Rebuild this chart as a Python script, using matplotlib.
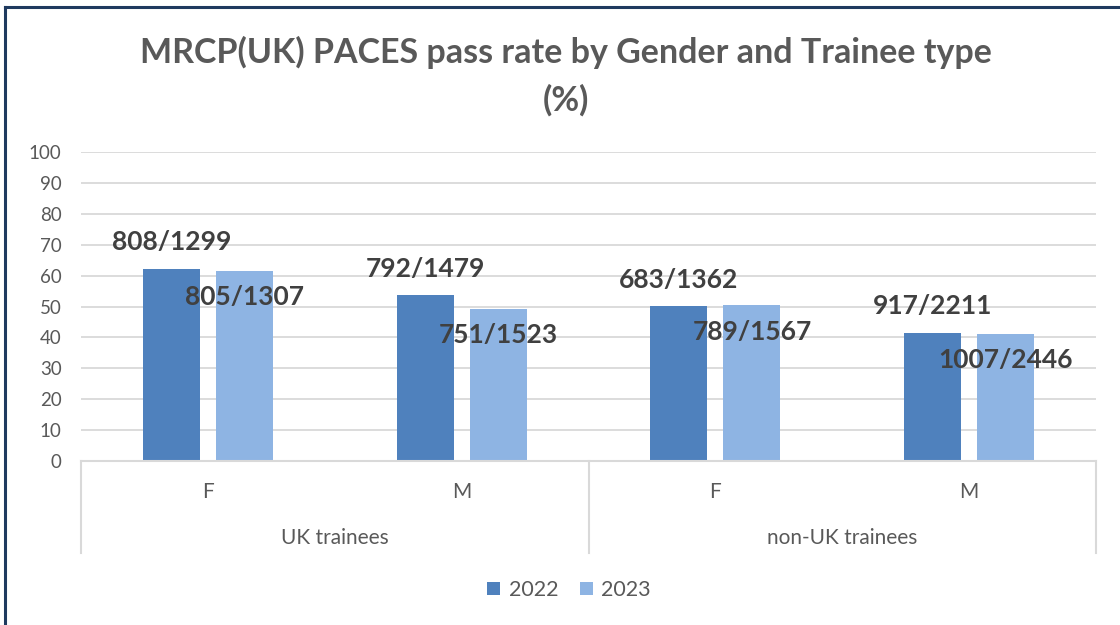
import matplotlib.pyplot as plt
from matplotlib.lines import Line2D

plt.rcParams['font.family'] = ['Lato', 'DejaVu Sans']

# Data
subgroups = ['F', 'M', 'F', 'M']
groups = ['UK trainees', 'non-UK trainees']
rate_2022 = [62.2, 53.6, 50.1, 41.5]
rate_2023 = [61.6, 49.3, 50.4, 41.2]
labels_2022 = ['808/1299', '792/1479', '683/1362', '917/2211']
labels_2023 = ['805/1307', '751/1523', '789/1567', '1007/2446']

c22 = '#4F81BD'
c23 = '#8EB4E3'
grey = '#595959'
grid_c = '#D9D9D9'

fig = plt.figure(figsize=(11.2, 6.25), dpi=100)
ax = fig.add_axes([81/1120, 1-461/625, (1096-81)/1120, (461-152)/625])

x = [i + 0.5 for i in range(len(subgroups))]
w = 0.225
off = 0.144
b1 = ax.bar([v - off for v in x], rate_2022, w, color=c22, label='2022', zorder=2)
b2 = ax.bar([v + off for v in x], rate_2023, w, color=c23, label='2023', zorder=2)

for bar, lab in zip(b1, labels_2022):
    ax.annotate(lab, (bar.get_x() + bar.get_width()/2, bar.get_height()),
                xytext=(0, 19), textcoords='offset points', ha='center', va='center',
                fontsize=19, fontweight='bold', color='#404040', zorder=3)
for bar, lab in zip(b2, labels_2023):
    ax.annotate(lab, (bar.get_x() + bar.get_width()/2, bar.get_height()),
                xytext=(0, -19), textcoords='offset points', ha='center', va='center',
                fontsize=19, fontweight='bold', color='#404040', zorder=3)

ax.set_xlim(0, 4)
ax.set_ylim(0, 100)
ax.set_yticks(range(0, 101, 10))
ax.yaxis.grid(True, color=grid_c, linewidth=1.3, zorder=0)
ax.set_axisbelow(True)
ax.tick_params(axis='y', length=0, pad=14, labelsize=13.5, labelcolor=grey)
ax.set_xticks([])
for s in ax.spines.values():
    s.set_visible(False)

# category axis with group separators
tr = ax.get_xaxis_transform()
ax.plot([0, 4], [0, 0], color=grid_c, lw=1.5, transform=tr, clip_on=False)
for xs in [0, 2, 4]:
    ax.plot([xs, xs], [0, -0.298], color=grid_c, lw=1.5, transform=tr, clip_on=False)
for xv, s in zip(x, subgroups):
    ax.text(xv, -0.1, s, transform=tr, ha='center', va='center', fontsize=15, color=grey)
for i, g in enumerate(groups):
    ax.text(2*i + 1, -0.249, g, transform=tr, ha='center', va='center', fontsize=15, color=grey)

fig.text(0.505, 1-52/625, 'MRCP(UK) PACES pass rate by Gender and Trainee type',
         ha='center', va='center', fontsize=24.5, fontweight='bold', color=grey)
fig.text(0.505, 1-100/625, '(%)', ha='center', va='center', fontsize=24.5,
         fontweight='bold', color=grey)

fig.legend(handles=[b1, b2], labels=['2022', '2023'], loc='center',
           bbox_to_anchor=(0.508, 1-590/625), ncol=2, frameon=False,
           fontsize=15.5, labelcolor=grey, handlelength=0.6, handleheight=0.6,
           handletextpad=0.4, columnspacing=1.0)

# outer frame (left and top edges visible)
frame_c = '#1F3A5F'
fig.add_artist(Line2D([5/1120, 5/1120], [0, 1-7/625], color=frame_c, lw=2.2))
fig.add_artist(Line2D([5/1120, 1], [1-7/625, 1-7/625], color=frame_c, lw=2.2))

fig.savefig('out.png', dpi=100)
